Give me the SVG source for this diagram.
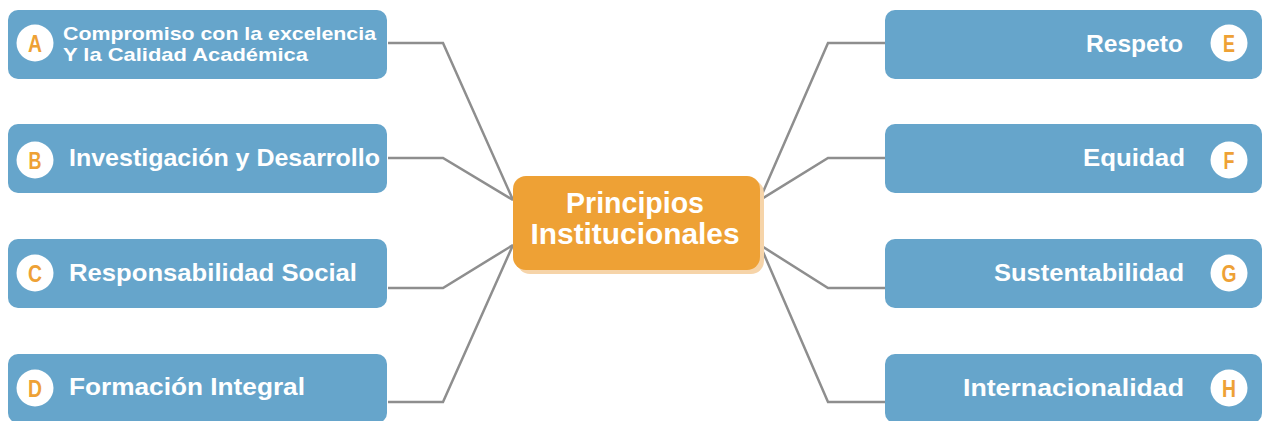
<svg xmlns="http://www.w3.org/2000/svg" width="1263" height="421" viewBox="0 0 1263 421">
<style>
.box{fill:#66a5cb}
.badge{fill:#ffffff}
.letter{fill:#eea135;font-family:"Liberation Sans",Arial,sans-serif;font-weight:bold;font-size:23px;text-anchor:middle}
.lbl{fill:#ffffff;font-family:"Liberation Sans",Arial,sans-serif;font-weight:bold;font-size:24px}
.lblA{fill:#ffffff;font-family:"Liberation Sans",Arial,sans-serif;font-weight:bold;font-size:19px}
.ctr{fill:#ffffff;font-family:"Liberation Sans",Arial,sans-serif;font-weight:bold;font-size:30px;text-anchor:middle}
.conn{fill:none;stroke:#8e8e8e;stroke-width:2.5;stroke-linejoin:miter}
</style>
<rect width="1263" height="421" fill="#ffffff"/>
<g id="connectors">
<polyline class="conn" points="388,43 443,43 513,200"/>
<polyline class="conn" points="388,158 443,158 513,200"/>
<polyline class="conn" points="388,288 443,288 513,245"/>
<polyline class="conn" points="388,402 443,402 513,245"/>
<polyline class="conn" points="885,43 828,43 760,199"/>
<polyline class="conn" points="885,158 828,158 760,200"/>
<polyline class="conn" points="885,288 828,288 760,245"/>
<polyline class="conn" points="885,402 828,402 760,245"/>
</g>
<g id="center">
<rect x="517" y="180" width="247" height="94" rx="13" fill="#f6d4a9"/>
<rect x="513" y="176" width="247" height="94" rx="13" fill="#eea135"/>
<text class="ctr" x="635" y="213" textLength="138" lengthAdjust="spacingAndGlyphs">Principios</text>
<text class="ctr" x="635" y="244" textLength="209" lengthAdjust="spacingAndGlyphs">Institucionales</text>
</g>
<g id="nodeA">
<rect class="box" x="8" y="10" width="379" height="69" rx="10"/>
<circle class="badge" cx="35" cy="43" r="18.5"/>
<text class="letter" x="35" y="51.5" textLength="14" lengthAdjust="spacingAndGlyphs">A</text>
<text class="lblA" x="63" y="40" textLength="313" lengthAdjust="spacingAndGlyphs">Compromiso con la excelencia</text>
<text class="lblA" x="63" y="61" textLength="245" lengthAdjust="spacingAndGlyphs">Y la Calidad Académica</text>
</g>
<g id="nodeB">
<rect class="box" x="8" y="124" width="379" height="69" rx="10"/>
<circle class="badge" cx="35" cy="160" r="18.5"/>
<text class="letter" x="35" y="168.5" textLength="13" lengthAdjust="spacingAndGlyphs">B</text>
<text class="lbl" x="69" y="166" textLength="311" lengthAdjust="spacingAndGlyphs">Investigación y Desarrollo</text>
</g>
<g id="nodeC">
<rect class="box" x="8" y="239" width="379" height="69" rx="10"/>
<circle class="badge" cx="35" cy="273" r="18.5"/>
<text class="letter" x="35" y="281.5" textLength="14" lengthAdjust="spacingAndGlyphs">C</text>
<text class="lbl" x="69" y="281" textLength="288" lengthAdjust="spacingAndGlyphs">Responsabilidad Social</text>
</g>
<g id="nodeD">
<rect class="box" x="8" y="354" width="379" height="69" rx="10"/>
<circle class="badge" cx="35" cy="388" r="18.5"/>
<text class="letter" x="35" y="396.5" textLength="14" lengthAdjust="spacingAndGlyphs">D</text>
<text class="lbl" x="69" y="395" textLength="236" lengthAdjust="spacingAndGlyphs">Formación Integral</text>
</g>
<g id="nodeE">
<rect class="box" x="885" y="10" width="377" height="69" rx="10"/>
<circle class="badge" cx="1229" cy="43" r="18.5"/>
<text class="letter" x="1229" y="51.5" textLength="12" lengthAdjust="spacingAndGlyphs">E</text>
<text class="lbl" x="1086" y="52" textLength="97" lengthAdjust="spacingAndGlyphs">Respeto</text>
</g>
<g id="nodeF">
<rect class="box" x="885" y="124" width="377" height="69" rx="10"/>
<circle class="badge" cx="1229" cy="160" r="18.5"/>
<text class="letter" x="1229" y="168.5" textLength="11" lengthAdjust="spacingAndGlyphs">F</text>
<text class="lbl" x="1083" y="166" textLength="102" lengthAdjust="spacingAndGlyphs">Equidad</text>
</g>
<g id="nodeG">
<rect class="box" x="885" y="239" width="377" height="69" rx="10"/>
<circle class="badge" cx="1229" cy="273" r="18.5"/>
<text class="letter" x="1229" y="281.5" textLength="15" lengthAdjust="spacingAndGlyphs">G</text>
<text class="lbl" x="994" y="281" textLength="190" lengthAdjust="spacingAndGlyphs">Sustentabilidad</text>
</g>
<g id="nodeH">
<rect class="box" x="885" y="354" width="377" height="69" rx="10"/>
<circle class="badge" cx="1229" cy="388" r="18.5"/>
<text class="letter" x="1229" y="396.5" textLength="14" lengthAdjust="spacingAndGlyphs">H</text>
<text class="lbl" x="963" y="396" textLength="221" lengthAdjust="spacingAndGlyphs">Internacionalidad</text>
</g>
</svg>
